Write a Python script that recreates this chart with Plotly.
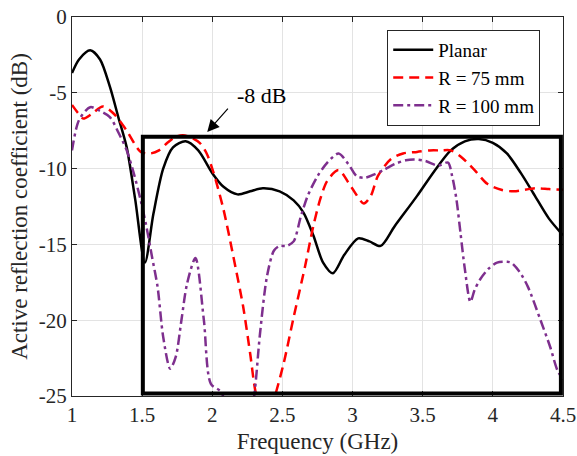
import plotly.graph_objects as go

# Planar
f_planar = [1.0, 1.05, 1.13, 1.2, 1.27, 1.33, 1.39, 1.45, 1.52, 1.58, 1.65, 1.72, 1.81, 1.9, 2.0, 2.08,
            2.18, 2.27, 2.36, 2.48, 2.58, 2.65, 2.72, 2.79, 2.86, 2.94, 3.04, 3.12, 3.2, 3.3, 3.46, 3.58,
            3.7, 3.8, 3.9, 4.0, 4.1, 4.2, 4.3, 4.4, 4.5]
s_planar = [-3.7, -2.8, -2.2, -2.8, -4.6, -6.6, -8.6, -12.0, -16.2, -13.0, -10.0, -8.6, -8.2, -8.8, -10.3, -11.2,
            -11.7, -11.5, -11.3, -11.5, -12.1, -12.9, -14.4, -16.2, -16.9, -15.7, -14.6, -14.8, -15.1, -13.8, -11.8, -10.2,
            -8.8, -8.2, -8.05, -8.3, -9.0, -10.3, -11.8, -13.3, -14.4]

# R = 75 mm
f_r75 = [1.0, 1.04, 1.08, 1.14, 1.22, 1.3, 1.39, 1.49, 1.56, 1.62, 1.68, 1.74, 1.79, 1.85, 1.91, 1.96, 2.01, 2.08,
         2.15, 2.22, 2.27, 2.31, 2.38, 2.45, 2.51, 2.58, 2.66, 2.72, 2.77, 2.82, 2.9, 2.99, 3.08, 3.13, 3.18, 3.27,
         3.36, 3.46, 3.55, 3.63, 3.7, 3.77, 3.87, 3.96, 4.06, 4.15, 4.3, 4.4, 4.5]
s_r75 = [-5.8, -6.3, -6.7, -6.4, -5.9, -6.4, -7.5, -8.9, -9.0, -8.8, -8.3, -7.9, -7.8, -7.95, -8.3, -9.0, -10.3, -12.7,
         -15.8, -19.1, -22.2, -24.8, -27.0, -24.9, -22.8, -19.8, -16.5, -13.8, -12.0, -10.8, -10.1, -11.2, -12.3, -11.8, -10.5, -9.4,
         -9.0, -8.9, -8.8, -8.8, -8.8, -9.2, -10.1, -11.0, -11.4, -11.5, -11.3, -11.35, -11.4]

# R = 100 mm
f_r100 = [1.0, 1.05, 1.13, 1.2, 1.27, 1.33, 1.39, 1.44, 1.49, 1.53, 1.57, 1.61, 1.65, 1.7, 1.74, 1.78, 1.82, 1.88,
          1.94, 1.99, 2.06, 2.1, 2.18, 2.26, 2.3, 2.34, 2.39, 2.44, 2.48, 2.53, 2.58, 2.63, 2.68, 2.75, 2.82, 2.9,
          2.97, 3.03, 3.09, 3.15, 3.22, 3.3, 3.38, 3.44, 3.52, 3.61, 3.68, 3.71, 3.74, 3.77, 3.8, 3.84, 3.87, 3.91,
          3.97, 4.03, 4.1, 4.13, 4.19, 4.25, 4.34, 4.41, 4.46, 4.5]
s_r100 = [-8.8, -6.8, -5.95, -6.2, -6.6, -7.6, -8.8, -10.3, -12.1, -13.8, -15.8, -17.8, -21.1, -23.2, -22.4, -20.0, -17.6, -15.9,
          -20.0, -24.2, -24.7, -25.6, -27.5, -27.0, -24.9, -20.9, -17.1, -15.4, -15.1, -15.1, -14.8, -13.2, -11.8, -10.5, -9.6, -9.0,
          -9.7, -10.5, -10.6, -10.4, -10.1, -9.7, -9.45, -9.4, -9.5, -9.8, -9.6, -10.5, -12.0, -14.3, -16.6, -18.8, -18.0, -17.3,
          -16.6, -16.2, -16.15, -16.2, -16.8, -17.8, -20.0, -21.8, -23.3, -23.9]

x_ticks = [1, 1.5, 2, 2.5, 3, 3.5, 4, 4.5]
x_tick_text = ["1", "1.5", "2", "2.5", "3", "3.5", "4", "4.5"]
y_ticks = [0, -5, -10, -15, -20, -25]
y_tick_text = ["0", "-5", "-10", "-15", "-20", "-25"]

FONT = "Times New Roman, Liberation Serif, serif"

fig = go.Figure()
fig.add_trace(go.Scatter(x=f_planar, y=s_planar, mode="lines", name="Planar",
                         line=dict(color="black", width=2.5, shape="spline", smoothing=0.8)))
fig.add_trace(go.Scatter(x=f_r75, y=s_r75, mode="lines", name="R = 75 mm",
                         line=dict(color="#FF0000", width=2.5, dash="10px,6px", shape="spline", smoothing=0.8)))
fig.add_trace(go.Scatter(x=f_r100, y=s_r100, mode="lines", name="R = 100 mm",
                         line=dict(color="#7E2F8E", width=2.5, dash="10px,4px,3px,4px", shape="spline", smoothing=0.8)))

# -8 dB box
fig.add_shape(type="rect", x0=1.505, x1=4.485, y0=-24.83, y1=-7.9, xref="x", yref="y",
              line=dict(color="black", width=4))

# arrow
fig.add_annotation(x=1.964, y=-7.59, xref="x", yref="y", text="", showarrow=True,
                   ax=22, ay=-25, arrowhead=2, arrowsize=2, arrowwidth=1.2, arrowcolor="black")
fig.add_annotation(x=2.357, y=-5.15, xref="x", yref="y", text="-8 dB", showarrow=False,
                   font=dict(family=FONT, size=22, color="black"))

axis_common = dict(showline=True, linecolor="#262626", linewidth=1, mirror="ticks", ticks="inside",
                   ticklen=5, tickcolor="#262626", showgrid=True, gridcolor="#E3E3E3", gridwidth=1,
                   zeroline=False, automargin=False,
                   tickfont=dict(family=FONT, size=21, color="#262626"))

fig.update_xaxes(range=[1, 4.5], tickvals=x_ticks, ticktext=x_tick_text,
                 title=dict(text="Frequency (GHz)", font=dict(family=FONT, size=23, color="#262626"), standoff=6),
                 **axis_common)
fig.update_yaxes(range=[-25, 0], tickvals=y_ticks, ticktext=y_tick_text,
                 title=dict(text="Active reflection coefficient (dB)", font=dict(family=FONT, size=23, color="#262626"), standoff=4),
                 **axis_common)

fig.update_layout(
    width=577, height=456,
    margin=dict(l=72, r=14, t=17, b=60),
    paper_bgcolor="white", plot_bgcolor="white",
    showlegend=True,
    legend=dict(x=0.642, y=0.966, xanchor="left", yanchor="top",
                bgcolor="white", bordercolor="#262626", borderwidth=1,
                font=dict(family=FONT, size=19, color="black"),
                tracegroupgap=0, itemwidth=40),
)

fig.write_html("out.html")
